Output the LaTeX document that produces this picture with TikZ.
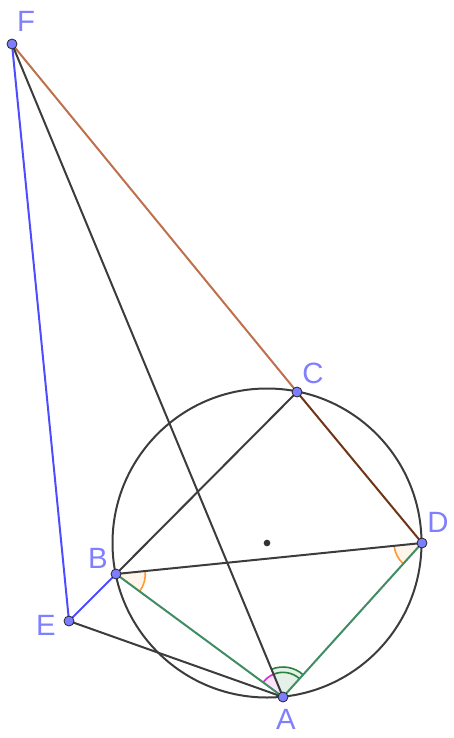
\documentclass[tikz,border=0pt]{standalone}
\usepackage{fontspec}
\setmainfont{Liberation Sans}
\usetikzlibrary{angles}

\definecolor{ptblue}{RGB}{125,125,255}
\definecolor{lblue}{RGB}{128,128,255}
\definecolor{segblue}{RGB}{77,77,255}
\definecolor{darkline}{RGB}{60,60,60}
\definecolor{sienna}{RGB}{190,112,76}
\definecolor{darkbrown}{RGB}{112,52,22}
\definecolor{segreen}{RGB}{64,140,100}
\definecolor{angorange}{RGB}{255,153,51}
\definecolor{anggreen}{RGB}{40,130,60}
\definecolor{angpink}{RGB}{220,40,220}

\tikzstyle{pointnode} = [circle, draw=black!85, fill=ptblue, line width=0.6pt, inner sep=0pt, minimum size=7.5pt]
\tikzstyle{labelnode} = [text=lblue, font=\fontsize{22}{24}\selectfont, inner sep=0pt]
\tikzstyle{seg} = [line width=1.5pt, line cap=round]

\begin{document}
\begin{tikzpicture}[x=0.75pt, y=-0.75pt]
        \useasboundingbox (0,0) rectangle (453,738);

        \coordinate (F) at (12,44);
        \coordinate (C) at (297,392);
        \coordinate (D) at (422,543);
        \coordinate (B) at (116,574);
        \coordinate (E) at (69,621);
        \coordinate (A) at (283,697);
        \coordinate (O) at (267,543);

        % angles
        \pic [draw=angorange, fill=angorange!10, line width=1.2pt, angle radius=22pt] {angle = A--B--D};
        \pic [draw=angorange, fill=angorange!10, line width=1.2pt, angle radius=21pt] {angle = B--D--A};
        \pic [draw=anggreen, fill=anggreen!12, line width=1.2pt, angle radius=22.5pt] {angle = D--A--F};
        \pic [draw=anggreen, line width=1.2pt, angle radius=18.5pt] {angle = D--A--F};
        \pic [draw=angpink, fill=angpink!12, line width=1.2pt, angle radius=18.5pt] {angle = F--A--B};

        \draw [darkline, line width=1.5pt] (O) circle [radius=154.5];

        \draw [seg, sienna] (F) -- (C);
        \draw [seg, darkbrown] (C) -- (D);
        \draw [seg, segblue] (F) -- (E) -- (B);
        \draw [seg, darkline] (F) -- (A);
        \draw [seg, darkline] (E) -- (A);
        \draw [seg, darkline] (B) -- (C);
        \draw [seg, darkline] (B) -- (D);
        \draw [seg, segreen] (B) -- (A) -- (D);

        \node [circle, fill=black!80, inner sep=0pt, minimum size=5pt] (center) at (O) {};
        \node [pointnode] (pF) at (F) {};
        \node [pointnode] (pC) at (C) {};
        \node [pointnode] (pD) at (D) {};
        \node [pointnode] (pB) at (B) {};
        \node [pointnode] (pE) at (E) {};
        \node [pointnode] (pA) at (A) {};

        \node [labelnode] (lF) at (26,21) {F};
        \node [labelnode] (lC) at (313,373) {C};
        \node [labelnode] (lD) at (438,522) {D};
        \node [labelnode] (lB) at (98,558) {B};
        \node [labelnode] (lE) at (46,625) {E};
        \node [labelnode] (lA) at (286,719) {A};

    \end{tikzpicture}
\end{document}
